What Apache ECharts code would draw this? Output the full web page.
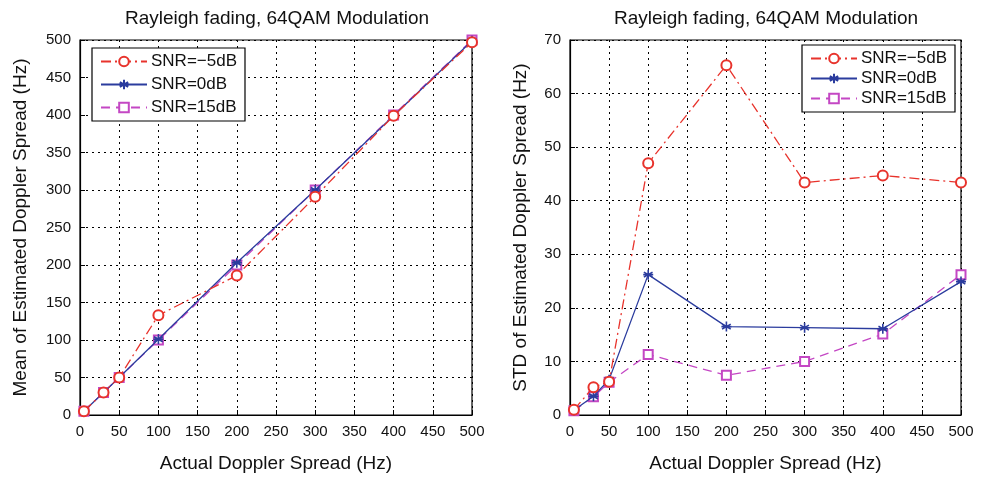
<!DOCTYPE html>
<html><head><meta charset="utf-8">
<script src="https://cdn.jsdelivr.net/npm/echarts@6/dist/echarts.min.js"></script>
<style>html,body{margin:0;padding:0;background:#fff}#c{width:984px;height:479px}</style>
</head><body><div id="c"></div>
<script>
const xVals = [5, 30, 50, 100, 200, 300, 400, 500];
const meanM5 = [5, 30, 50, 133, 186, 291, 399, 497];
const mean0 = [5, 30, 50, 101, 203, 300, 399, 499];
const mean15 = [5, 30, 50, 100, 200, 300, 400, 500];
const stdM5 = [1.0, 5.2, 6.2, 47.0, 65.3, 43.4, 44.7, 43.4];
const std0 = [0.9, 3.5, 6.6, 26.2, 16.5, 16.3, 16.1, 24.9];
const std15 = [0.8, 3.4, 6.1, 11.3, 7.4, 10.0, 15.1, 26.2];
const names = ['SNR=\u22125dB', 'SNR=0dB', 'SNR=15dB'];
const titleText = 'Rayleigh fading, 64QAM Modulation';

const FONT = 'Liberation Sans, Arial, sans-serif';
const RED = '#e8332c', BLUE = '#2b3c9e', MAG = '#c447c4';
const star = 'path://M0,-10L0,10M-8.66,-5L8.66,5M-8.66,5L8.66,-5M-10,0L10,0';
const pair = (ys) => xVals.map((x, i) => [x, ys[i]]);

function mkSeries(idx, arrs) {
  const st = [
    {color: RED, type: [10, 4, 2, 4], sym: 'emptyCircle', size: 10},
    {color: BLUE, type: 'solid', sym: star, size: 10},
    {color: MAG, type: [9, 6], sym: 'emptyRect', size: 9}
  ];
  return arrs.map((a, k) => ({
    name: names[k], type: 'line', xAxisIndex: idx, yAxisIndex: idx,
    data: pair(a), symbol: st[k].sym, symbolSize: st[k].size,
    showAllSymbol: true,
    lineStyle: {color: st[k].color, width: 1.3, type: st[k].type},
    itemStyle: k === 1
      ? {color: 'none', borderColor: BLUE, borderWidth: 1.6}
      : {color: st[k].color, borderWidth: 1.2},
    emphasis: {disabled: true}, z: 3 - k + 2
  }));
}

function xAxis(idx) {
  return {
    gridIndex: idx, type: 'value', min: 0, max: 500, interval: 50,
    name: 'Actual Doppler Spread (Hz)', nameLocation: 'middle', nameGap: 39,
    nameTextStyle: {fontFamily: FONT, fontSize: 19, color: '#111'},
    axisLine: {show: true, onZero: false, lineStyle: {color: '#000', width: 1.2}},
    axisTick: {show: true, inside: true, length: 5, lineStyle: {color: '#000'}},
    axisLabel: {fontFamily: FONT, fontSize: 15, color: '#111', margin: 9},
    splitLine: {show: true, lineStyle: {color: '#000', type: [2, 4], width: 1}}
  };
}
function yAxis(idx, max, interval, name, gap) {
  return {
    gridIndex: idx, type: 'value', min: 0, max: max, interval: interval,
    name: name, nameLocation: 'middle', nameGap: gap,
    nameTextStyle: {fontFamily: FONT, fontSize: 19, color: '#111'},
    axisLine: {show: true, onZero: false, lineStyle: {color: '#000', width: 1.2}},
    axisTick: {show: true, inside: true, length: 5, lineStyle: {color: '#000'}},
    axisLabel: {fontFamily: FONT, fontSize: 15, color: '#111', margin: 9},
    splitLine: {show: true, lineStyle: {color: '#000', type: [2, 4], width: 1}}
  };
}
function legend(left, top, gap, pv) {
  return {
    left: left, top: top, orient: 'vertical', data: names,
    backgroundColor: '#fff', borderColor: '#000', borderWidth: 1.2, borderRadius: 0,
    padding: [pv, 8, pv, 8], itemWidth: 46, itemHeight: 12, itemGap: gap,
    textStyle: {fontFamily: FONT, fontSize: 17, color: '#111', padding: [0, 0, 0, -1]},
    selectedMode: false
  };
}

const chart = echarts.init(document.getElementById('c'), null, {renderer: 'canvas'});
chart.setOption({
  animation: false,
  backgroundColor: '#fff',
  title: [
    {text: titleText, left: 277, top: 9, padding: 0, textAlign: 'center', textStyle: {fontFamily: FONT, fontSize: 19, fontWeight: 'normal', color: '#111'}},
    {text: titleText, left: 766, top: 9, padding: 0, textAlign: 'center', textStyle: {fontFamily: FONT, fontSize: 19, fontWeight: 'normal', color: '#111'}}
  ],
  grid: [
    {left: 80, top: 40, width: 392, height: 375, show: true, borderColor: '#000', borderWidth: 1.2, backgroundColor: 'transparent'},
    {left: 570, top: 40, width: 391, height: 375, show: true, borderColor: '#000', borderWidth: 1.2, backgroundColor: 'transparent'}
  ],
  xAxis: [xAxis(0), xAxis(1)],
  yAxis: [
    yAxis(0, 500, 50, 'Mean of Estimated Doppler Spread (Hz)', 50),
    yAxis(1, 70, 10, 'STD of Estimated Doppler Spread (Hz)', 40)
  ],
  legend: [legend(92, 48, 6, 5), legend(802, 45, 3, 5)],
  series: [...mkSeries(0, [meanM5, mean0, mean15]), ...mkSeries(1, [stdM5, std0, std15])]
});
</script></body></html>
